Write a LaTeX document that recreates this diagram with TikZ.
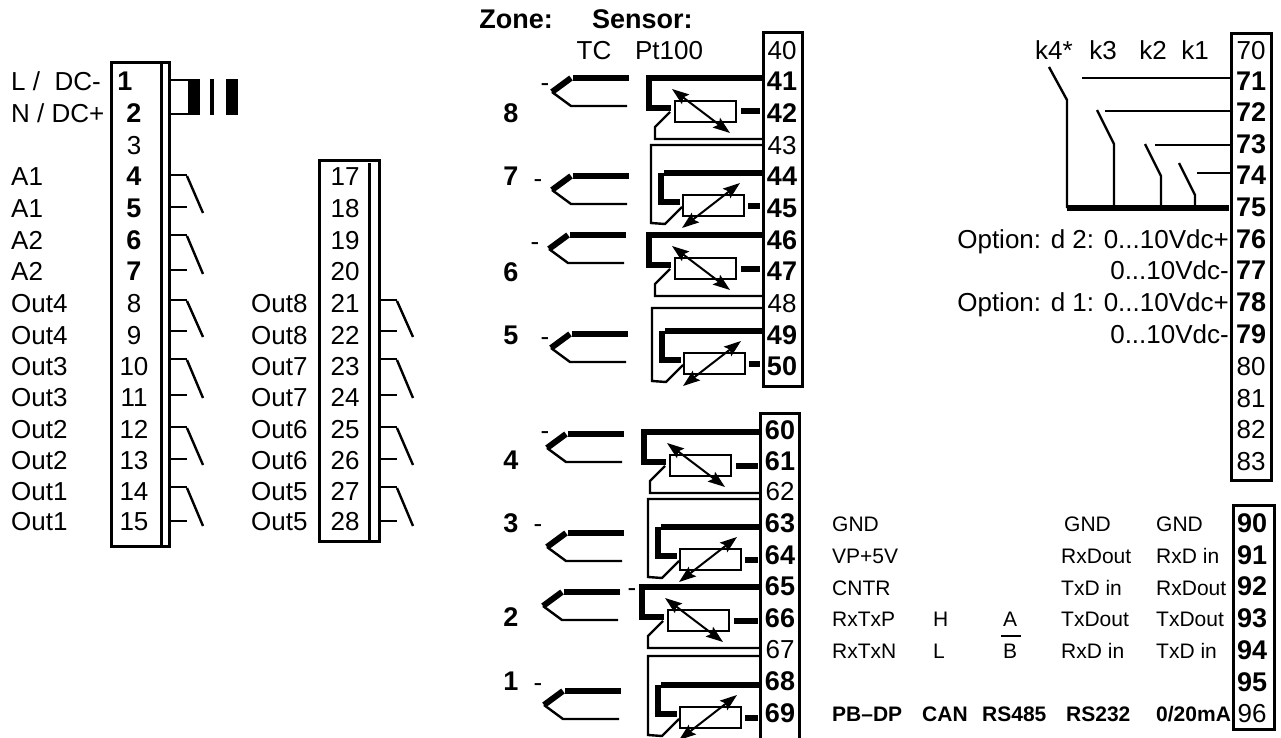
\documentclass[tikz,border=0pt]{standalone}
\usepackage{fontspec}
\setmainfont{Liberation Sans}
\usetikzlibrary{arrows.meta}
\tikzset{
  wire/.style={line width=2.4pt},
  fatwire/.style={line width=6pt},
  frame/.style={line width=3pt},
  dblarrow/.style={line width=2pt,{Stealth[length=17pt,width=12pt,inset=3pt]}-{Stealth[length=17pt,width=12pt,inset=3pt]}},
  pbox/.style={draw,line width=2.4pt,minimum width=61pt,minimum height=21pt,inner sep=0pt},
  lbl/.style={font=\fontsize{26}{26}\selectfont,inner sep=0pt,text height=18.6pt,text depth=0pt},
  blbl/.style={font=\fontsize{27}{27}\bfseries\selectfont,inner sep=0pt,text height=19pt,text depth=0pt},
  slbl/.style={font=\fontsize{21}{21}\selectfont,inner sep=0pt,text height=15pt,text depth=0pt},
  sblbl/.style={font=\fontsize{21}{21}\bfseries\selectfont,inner sep=0pt,text height=15pt,text depth=0pt},
  term/.style={minimum width=38pt}
}
\begin{document}
\begin{tikzpicture}[x=1pt,y=-1pt]
    \useasboundingbox (0,0) rectangle (1281,738);

    % left blocks
    \draw[frame] (111,63) rectangle (169,546);
    \draw[frame] (161,63) -- (161,546);
    \draw[frame] (319,161) rectangle (379,541);
    \draw[frame] (369,163) -- (369,543);

    \node[blbl] (t1) at (125,81) {1};
    \foreach \n/\y in {2/113,4/176,5/208,6/240,7/271}
      \node[blbl] (t\n) at (134,\y) {\n};
    \foreach \n/\y in {3/145,8/303,9/335,10/366,11/397,12/429,13/460,14/491,15/521}
      \node[lbl] (t\n) at (134,\y) {\n};
    \foreach \n/\y in {17/176,18/208,19/240,20/271,21/303,22/335,23/366,24/397,25/429,26/460,27/491,28/521}
      \node[lbl] (t\n) at (345,\y) {\n};

    \node[lbl,anchor=west] (lac1) at (11,81) {L /\ \ DC-};
    \node[lbl,anchor=west] (lac2) at (11,113) {N / DC+};
    \foreach \n/\t/\y in {4/A1/176,5/A1/208,6/A2/240,7/A2/271,8/Out4/303,9/Out4/335,10/Out3/366,11/Out3/397,12/Out2/429,13/Out2/460,14/Out1/491,15/Out1/521}
      \node[lbl,anchor=west] (l\n) at (11,\y) {\t};
    \foreach \n/\t/\y in {21/Out8/303,22/Out8/335,23/Out7/366,24/Out7/397,25/Out6/429,26/Out6/460,27/Out5/491,28/Out5/521}
      \node[lbl,anchor=west] (l\n) at (251,\y) {\t};

    % mains filter
    \draw[wire] (169,80) -- (190,80);
    \draw[wire] (169,114) -- (190,114);
    \fill (188,79) rectangle (200,115);
    \fill (210,79) rectangle (214,115);
    \fill (226,79) rectangle (238,115);

    % contacts
    \foreach \y/\z/\e in {175/207/213,235/270/274,300/331/337,359/395/398,427/459/465,487/521/526}
    {
      \draw[wire] (171,\y) -- (187,\y);
      \draw[wire] (187,\y+1) -- (203,\e);
      \draw[wire] (171,\z) -- (187,\z);
    }
    \foreach \y/\z/\e in {300/331/337,359/395/398,427/459/465,487/521/526}
    {
      \draw[wire] (381,\y) -- (397,\y);
      \draw[wire] (397,\y+1) -- (413,\e);
      \draw[wire] (381,\z) -- (397,\z);
    }

    % header
    \node[blbl,anchor=east] (zone) at (553,19) {Zone:};
    \node[blbl,anchor=west] (sensor) at (592,19) {Sensor:};
    \node[lbl] (tc) at (594,50) {TC};
    \node[lbl] (pt) at (669,50) {Pt100};

    % terminals of the sensors
    \draw[frame] (763,33) rectangle (802,386);
    \draw[frame] (760,738) -- (760,413) -- (799,413) -- (799,738);
    \foreach \n/\y in {40/50,43/145,48/303}
      \node[lbl,term] (t\n) at (782,\y) {\n};
    \foreach \n/\y in {41/81,42/113,44/176,45/208,46/240,47/271,49/335,50/366}
      \node[blbl,term] (t\n) at (782,\y) {\n};
    \foreach \n/\y in {62/491,67/649}
      \node[lbl,term] (t\n) at (780,\y) {\n};
    \foreach \n/\y in {60/430,61/461,63/523,64/555,65/586,66/618,68/681,69/713}
      \node[blbl,term] (t\n) at (780,\y) {\n};

    % thermocouples
    \foreach \n/\tx/\ty/\mx/\my in {8/552/92/545/82,7/552/190/538/178,6/549/249/535/241,5/551/348/545/336,4/547/448/545/430,3/547/547/538/523,2/543/606/632/587,1/544/705/538/682}
    {
      \draw[fatwire] (\tx,\ty) -- (\tx+19,\ty-14);
      \draw[fatwire] (\tx+21,\ty-14) -- (\tx+77,\ty-14);
      \draw[wire] (\tx,\ty) -- (\tx+19,\ty+14) -- (\tx+75,\ty+14);
      \node[lbl] (m\n) at (\mx,\my) {-};
    }
    \foreach \n/\y in {8/113,7/176,6/272,5/335,4/460,3/523,2/617,1/681}
      \node[blbl] (z\n) at (511,\y) {\n};

    % Pt100 with falling arrow
    \foreach \bx/\by/\ta/\tb/\tc in {675/101/41/42/43,675/258/46/47/48,670/455/60/61/62,668/610/65/66/67}
    {
      \node[pbox] (r\tb) at (\bx+30.5,\by+10.5) {};
      \coordinate (c\ta) at (\bx-26,\by-23);
      \coordinate (c\tc) at (\bx-20,\by+38);
      \draw[fatwire] (c\ta -| t\ta.west) -- (c\ta) |- (\bx-4,\by+7);
      \draw[fatwire,shorten >=3pt] ([xshift=4pt]r\tb.east) -- (r\tb -| t\tb.west);
      \draw[wire] (c\tc -| t\tc.west) -- (c\tc) -- (\bx-20,\by+26) -- (\bx-5,\by+11);
      \draw[dblarrow] (\bx-3,\by-12) -- (\bx+55,\by+32);
    }

    % Pt100 with rising arrow
    \foreach \bx/\by/\oy/\ta/\tb/\to in {683/195/145/44/45/43,684/353/308/49/50/48,680/549/499/63/64/62,680/707/656/68/69/67}
    {
      \node[pbox] (r\tb) at (\bx+30.5,\by+10.5) {};
      \coordinate (c\ta) at (\bx-19,\by-22);
      \coordinate (d\to) at (\bx-32,\oy);
      \draw[fatwire] (c\ta -| t\ta.west) -- (c\ta);
      \draw[fatwire] (\bx-22,\by-22) -- (\bx-22,\by+7) -- (\bx-3,\by+7);
      \draw[fatwire,shorten >=3pt] ([xshift=3pt]r\tb.east) -- (r\tb -| t\tb.west);
      \draw[wire] (d\to -| t\to.west) -- (d\to) -- (\bx-32,\by+28) -- (\bx-18,\by+29) -- (\bx-1,\by+12);
      \draw[dblarrow] (\bx+57,\by-12) -- (\bx-1,\by+33);
    }

    % relay outputs
    \draw[frame] (1231,34) rectangle (1271,480);
    \foreach \n/\y in {70/50,80/366,81/398,82/429,83/461}
      \node[lbl,term] (t\n) at (1251,\y) {\n};
    \foreach \n/\y in {71/81,72/112,73/144,74/175,75/207,76/239,77/270,78/302,79/334}
      \node[blbl,term] (t\n) at (1251,\y) {\n};
    \foreach \t/\x in {k4*/1054,k3/1103,k2/1153,k1/1195}
      \node[lbl] (\t) at (\x,50) {\t};
    \foreach \n/\sx/\sy/\ex/\ey/\ax/\ay in {71/1049/67/1067/100/1082/78,72/1097/110/1114/144/1105/111,73/1145/144/1161/176/1155/145,74/1179/163/1195/195/1197/173}
    {
      \coordinate (a\n) at (\ax,\ay);
      \draw[wire] (a\n) -- (a\n -| t\n.west);
      \draw[wire] (\sx,\sy) -- (\ex,\ey) -- (\ex,208);
    }
    \draw[fatwire] (1067,208) -- (1229,208);

    \node[lbl,anchor=east] (opt2) at (1229,239) {Option: d 2: 0...10Vdc+};
    \node[lbl,anchor=east] (opt2b) at (1229,270) {0...10Vdc-};
    \node[lbl,anchor=east] (opt1) at (1229,302) {Option: d 1: 0...10Vdc+};
    \node[lbl,anchor=east] (opt1b) at (1229,334) {0...10Vdc-};

    % interface terminals
    \draw[frame] (1233,505) rectangle (1274,729);
    \foreach \n/\y in {90/523,91/555,92/586,93/618,94/650,95/682}
      \node[blbl,term] (t\n) at (1252,\y) {\n};
    \node[lbl,term] (t96) at (1252,713) {96};

    \foreach \k/\t/\x/\y in {a/GND/832/524,b/VP+5V/832/556,c/CNTR/832/588,d/RxTxP/832/619,e/RxTxN/832/651,f/H/933/619,g/L/933/651,h/GND/1064/524,i/RxDout/1061/556,j/TxD in/1061/588,k/TxDout/1061/619,l/RxD in/1061/651,m/GND/1156/524,n/RxD in/1156/556,o/RxDout/1156/588,p/TxDout/1156/619,q/TxD in/1156/651}
      \node[slbl,anchor=west] (s\k) at (\x,\y) {\t};
    \node[slbl] (sA) at (1010,619) {A};
    \node[slbl] (sB) at (1010,651) {B};
    \draw[line width=2.4pt] (1001,636) -- (1021,636);
    \foreach \k/\t/\x in {pb/PB--DP/832,can/CAN/922,r4/RS485/982,r2/RS232/1066,ma/0\slash 20mA/1156}
      \node[sblbl,anchor=west] (b\k) at (\x,714) {\t};

  \end{tikzpicture}
\end{document}
